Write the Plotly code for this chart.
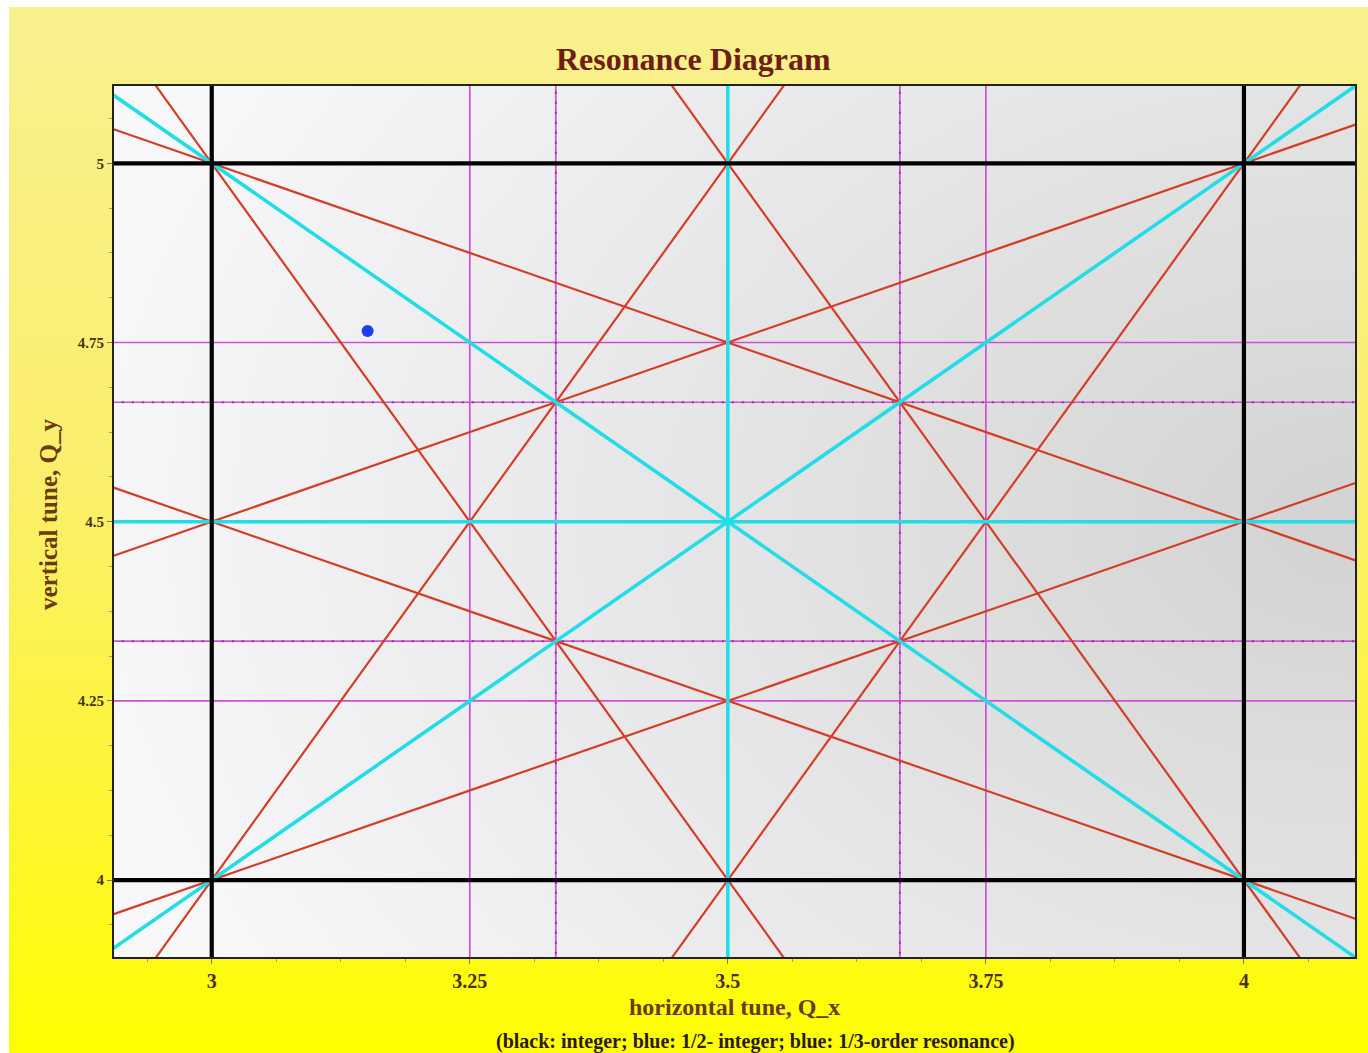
import base64
import numpy as np
import plotly.graph_objects as go

# Tune-space window
qx_range = [2.9053, 4.1076]
qy_range = [3.8926, 5.1079]

# Resonance lines a*Qx + b*Qy = n, grouped by order
integer_lines = [(1, 0, 3), (1, 0, 4), (0, 1, 4), (0, 1, 5)]
half_integer_lines = [(2, 0, 7), (0, 2, 9), (2, 2, 16), (-2, 2, 2)]
third_order_coupled = [(1, 2, 12), (1, 2, 13), (1, -2, -5), (1, -2, -6),
                       (2, 1, 11), (2, 1, 12), (2, -1, 2), (2, -1, 3)]
quarter_lines = [(4, 0, 13), (4, 0, 15), (0, 4, 17), (0, 4, 19)]
third_lines = [(3, 0, 10), (3, 0, 11), (0, 3, 13), (0, 3, 14)]

# Working point
tune_qx = [3.151]
tune_qy = [4.766]

tick_vals_x = [3, 3.25, 3.5, 3.75, 4]
tick_text_x = ["3", "3.25", "3.5", "3.75", "4"]
tick_vals_y = [4, 4.25, 4.5, 4.75, 5]
tick_text_y = ["4", "4.25", "4.5", "4.75", "5"]


def line_xy(a, b, n):
    if b == 0:
        x0 = n / a
        return [x0, x0], [qy_range[0] - 1, qy_range[1] + 1]
    xs = np.array([qx_range[0] - 1, qx_range[1] + 1])
    return list(xs), list((n - a * xs) / b)


fig = go.Figure()


def add_group(lines, color, width, dash="solid"):
    for a, b, n in lines:
        x, y = line_xy(a, b, n)
        fig.add_trace(go.Scatter(x=x, y=y, mode="lines",
                                 line=dict(color=color, width=width, dash=dash),
                                 hoverinfo="skip", showlegend=False))


add_group(quarter_lines + third_lines, "#cb52d2", 1.7)
add_group(third_lines, "#95329c", 2, dash="2px,8px")
add_group(third_order_coupled, "#d43e26", 2.2)
add_group(half_integer_lines, "#22dde6", 3.6)
add_group(integer_lines, "#000000", 4.2)

fig.add_trace(go.Scatter(x=tune_qx, y=tune_qy, mode="markers",
                         marker=dict(color="#1f3ff0", size=12),
                         hoverinfo="skip", showlegend=False))

# Background gradients as inline SVG
yellow_svg = (
    '<svg xmlns="http://www.w3.org/2000/svg" width="1359" height="1046" '
    'viewBox="0 0 1359 1046" preserveAspectRatio="none">'
    '<defs><linearGradient id="g" x1="0" y1="0" x2="0" y2="1">'
    '<stop offset="0" stop-color="#f8f08e"/>'
    '<stop offset="0.45" stop-color="#faef6c"/>'
    '<stop offset="0.8" stop-color="#fff62c"/>'
    '<stop offset="1" stop-color="#ffff00"/>'
    '</linearGradient></defs>'
    '<rect width="1359" height="1046" fill="url(#g)"/></svg>'
)
plot_svg = (
    '<svg xmlns="http://www.w3.org/2000/svg" width="1241" height="871" '
    'viewBox="0 0 1241 871" preserveAspectRatio="none">'
    '<defs><radialGradient id="r" cx="1" cy="0.5" r="1.05" '
    'gradientUnits="objectBoundingBox">'
    '<stop offset="0" stop-color="#d2d2d2"/>'
    '<stop offset="1" stop-color="#f8f8fb"/>'
    '</radialGradient></defs>'
    '<rect width="1241" height="871" fill="url(#r)"/></svg>'
)


def svg_uri(s):
    return "data:image/svg+xml;base64," + base64.b64encode(s.encode()).decode()


W, H = 1368, 1053
ml, mr, mt, mb = 114, 13, 86, 96
pw, ph = W - ml - mr, H - mt - mb


def px(x):
    return (x - ml) / pw


def py(y):
    return (H - mb - y) / ph


images = [
    dict(source=svg_uri(yellow_svg), xref="paper", yref="paper",
         x=px(9), y=py(7), sizex=(W - 9) / pw, sizey=(H - 7) / ph,
         xanchor="left", yanchor="top", sizing="stretch", layer="below"),
    dict(source=svg_uri(plot_svg), xref="paper", yref="paper",
         x=0, y=1, sizex=1, sizey=1,
         xanchor="left", yanchor="top", sizing="stretch", layer="below"),
]

serif = "Liberation Serif"
axis_common = dict(
    showgrid=False, zeroline=False, showline=True, mirror=True,
    linecolor="#222222", linewidth=2,
    ticks="outside", ticklen=5, tickcolor="#777777", tickwidth=1,
    minor=dict(dtick=0.0625, ticks="outside", ticklen=3, tickcolor="#999999"),
)


def label(text, x, y, size, color, angle=0):
    return dict(text=text, xref="paper", yref="paper", x=px(x), y=py(y),
                xanchor="center", yanchor="middle", showarrow=False,
                textangle=angle,
                font=dict(family=serif, size=size, color=color, weight="bold"))


fig.update_layout(
    width=W, height=H,
    margin=dict(l=ml, r=mr, t=mt, b=mb),
    paper_bgcolor="white", plot_bgcolor="rgba(0,0,0,0)",
    images=images,
    xaxis=dict(range=qx_range, tickvals=tick_vals_x, ticktext=tick_text_x,
               tickfont=dict(family=serif, size=20, color="#4a3010", weight="bold"),
               **axis_common),
    yaxis=dict(range=qy_range, tickvals=tick_vals_y, ticktext=tick_text_y,
               tickfont=dict(family=serif, size=15, color="#4a3010", weight="bold"),
               **axis_common),
    annotations=[
        label("Resonance Diagram", 693, 59, 32, "#6e1e14"),
        label("horizontal tune, Q_x", 734, 1007, 24, "#6b3a0e"),
        label("vertical tune, Q_y", 48, 515, 25, "#6b3a0e", angle=-90),
        label("(black: integer; blue: 1/2- integer; blue: 1/3-order resonance)",
              755, 1041, 20, "#2b1a08"),
    ],
)

fig.write_html("out.html")
